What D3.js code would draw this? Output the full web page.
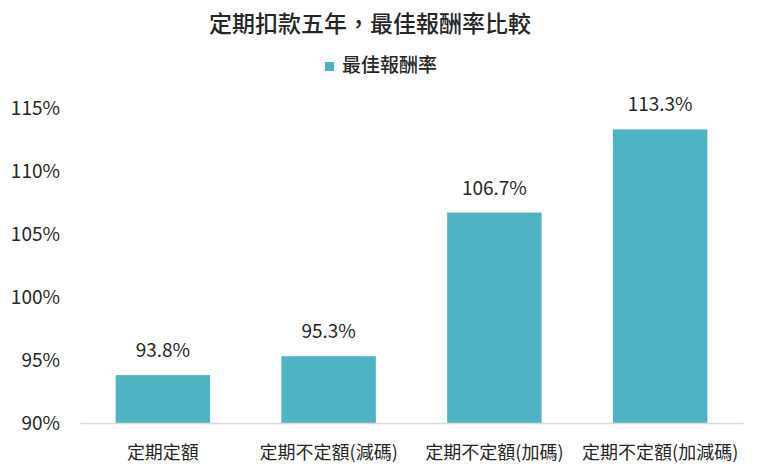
<!DOCTYPE html>
<html lang="zh-Hant">
<head>
    <meta charset="UTF-8">
    <title>定期扣款五年，最佳報酬率比較</title>
    <style>
        html, body { margin: 0; padding: 0; background: #fff; }
        svg text { font-family: "Noto Sans CJK TC", "Noto Sans", sans-serif; fill: #262626; }
    </style>
</head>
<body>
<svg id="chart"></svg>
<script src="https://cdn.jsdelivr.net/npm/d3@7"></script>
<script>
    var categories = ["定期定額", "定期不定額(減碼)", "定期不定額(加碼)", "定期不定額(加減碼)"];
    var values = [93.8, 95.3, 106.7, 113.3];
    var yTicks = [90, 95, 100, 105, 110, 115];
    var seriesName = "最佳報酬率";
    var title = "定期扣款五年，最佳報酬率比較";

    (function () {
        var width = 760, height = 471;
        var left = 80, right = 743, top = 108, bottom = 423;
        var barColor = "#4fb3c4";

        var svg = d3.select("#chart")
            .attr("width", width)
            .attr("height", height);

        var x = d3.scaleBand()
            .domain(categories)
            .range([left, right])
            .paddingInner(0.43)
            .paddingOuter(0.215);

        var y = d3.scaleLinear()
            .domain([90, 115])
            .range([bottom, top]);

        // title
        svg.append("text")
            .attr("x", 370)
            .attr("y", 32)
            .attr("text-anchor", "middle")
            .style("font-size", "23px")
            .style("font-weight", "500")
            .text(title);

        // legend
        var lg = svg.append("g").attr("transform", "translate(325,62)");
        lg.append("rect").attr("width", 9).attr("height", 9).attr("fill", barColor);
        lg.append("text")
            .attr("x", 17)
            .attr("y", 10)
            .style("font-size", "19px")
            .style("font-weight", "500")
            .text(seriesName);

        // y axis labels only
        var yAxis = d3.axisLeft(y)
            .tickValues(yTicks)
            .tickSize(0)
            .tickPadding(0)
            .tickFormat(function (d) { return d + "%"; });
        var yg = svg.append("g")
            .attr("transform", "translate(60,0)")
            .call(yAxis);
        yg.select(".domain").remove();
        yg.selectAll("text")
            .style("font-size", "19px")
            .attr("dy", "0.35em");

        // bars
        svg.selectAll("rect.bar")
            .data(values)
            .enter()
            .append("rect")
            .attr("class", "bar")
            .attr("x", function (d, i) { return x(categories[i]); })
            .attr("width", x.bandwidth())
            .attr("y", function (d) { return y(d); })
            .attr("height", function (d) { return y(90) - y(d); })
            .attr("fill", barColor);

        // value labels
        svg.selectAll("text.val")
            .data(values)
            .enter()
            .append("text")
            .attr("class", "val")
            .attr("x", function (d, i) { return x(categories[i]) + x.bandwidth() / 2; })
            .attr("y", function (d) { return y(d) - 18; })
            .attr("text-anchor", "middle")
            .style("font-size", "19px")
            .text(function (d) { return d.toFixed(1) + "%"; });

        // x axis
        var xAxis = d3.axisBottom(x).tickSize(0).tickPadding(23);
        var xg = svg.append("g")
            .attr("transform", "translate(0," + bottom + ")")
            .call(xAxis);
        xg.select(".domain").attr("stroke", "#d9d9d9").attr("stroke-width", 1.5);
        xg.selectAll("text").style("font-size", "18px");
    })();
</script>
</body>
</html>
